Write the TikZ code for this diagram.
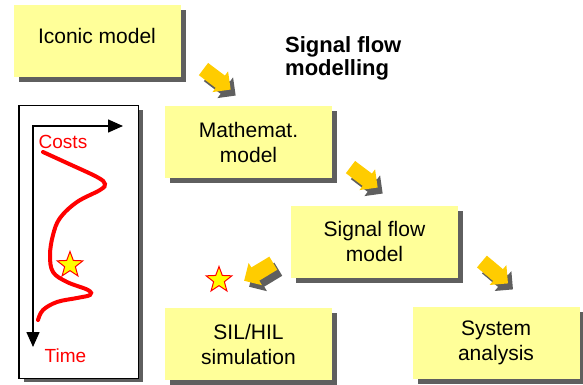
\documentclass[tikz,border=0pt]{standalone}
\usepackage{fontspec}
\setmainfont{Liberation Sans}
\usetikzlibrary{shapes.geometric,shapes.arrows,shadows,arrows.meta}
\definecolor{boxyellow}{HTML}{FFFF99}
\definecolor{arrowyellow}{HTML}{FFCC00}
\definecolor{shadowgrey}{HTML}{5F5F5F}
\definecolor{starfill}{HTML}{FFFF00}
\begin{document}
\begin{tikzpicture}[x=1pt,y=-1pt,
  grayshadow/.style={drop shadow={shadow xshift=5pt, shadow yshift=-5pt, fill=shadowgrey, opacity=1}},
  box/.style={fill=boxyellow, minimum width=167pt, minimum height=72pt, inner sep=0pt,
    align=center, font=\fontsize{21}{25}\selectfont, grayshadow},
  flowarrow/.style={single arrow, fill=arrowyellow, minimum height=34pt, minimum width=26pt,
    single arrow head extend=5pt, inner xsep=0pt, inner ysep=7pt,
    drop shadow={shadow xshift=5pt, shadow yshift=-6pt, fill=shadowgrey, opacity=1}},
  starmark/.style={star, star points=5, star point ratio=2.4, fill=starfill, draw=red,
    line width=1pt, minimum size=27pt, inner sep=0pt},
  axis/.style={line width=1.5pt, {Triangle[length=15pt,width=13pt]}-{Triangle[length=15pt,width=13pt]}},
  redtext/.style={text=red, font=\fontsize{19}{22}\selectfont, inner sep=0pt}
]
\useasboundingbox (0,0) rectangle (583,385);

% boxes
\node[box, text depth=11pt] (iconic) at (97,41.5) {Iconic model};
\node[box] (math) at (248.5,142) {Mathemat.\\model};
\node[box] (sfm) at (374.5,241.5) {Signal flow\\model};
\node[box] (sil) at (248.5,344) {SIL/HIL\\simulation};
\node[box] (sys) at (496,343) {System\\analysis};

% title
\node[anchor=north west, inner sep=0pt, align=left, font=\bfseries\fontsize{22}{23}\selectfont] (title) at (285,36.5) {Signal flow\\modelling};

% arrows
\node[flowarrow, rotate=-37] (a1) at (214,77) {};
\node[flowarrow, rotate=-37] (a2) at (361,175) {};
\node[flowarrow, rotate=-149] (a3) at (262,270) {};
\node[flowarrow, rotate=-40] (a4) at (492,270) {};

% left panel
\node[draw, line width=1.5pt, fill=white, minimum width=119.5pt, minimum height=272.5pt, inner sep=0pt,
  drop shadow={shadow xshift=5pt, shadow yshift=-4pt, fill=shadowgrey, opacity=1}] (panel) at (78.5,242) {};
\coordinate (origin) at (33,126);
\coordinate (xtip) at (123,126);
\coordinate (ytip) at (33,347);
\draw[axis] (xtip) -- (origin) -- (ytip);
\node[redtext] (costs) at (63,142) {Costs};
\node[redtext] (time) at (65.5,355.5) {Time};
\draw[red, line width=4pt, line cap=round] plot[smooth, tension=0.6] coordinates {
  (43,152) (67,163) (97,177) (105,184) (100,190) (77,202) (60,218) (53,235) (50,255)
  (53,272) (67,282) (88,290) (90,295) (77,298) (57,302) (43,310) (38,320)};
\node[starmark] (star1) at (70,265) {};
\node[starmark] (star2) at (219,280) {};
\end{tikzpicture}
\end{document}
